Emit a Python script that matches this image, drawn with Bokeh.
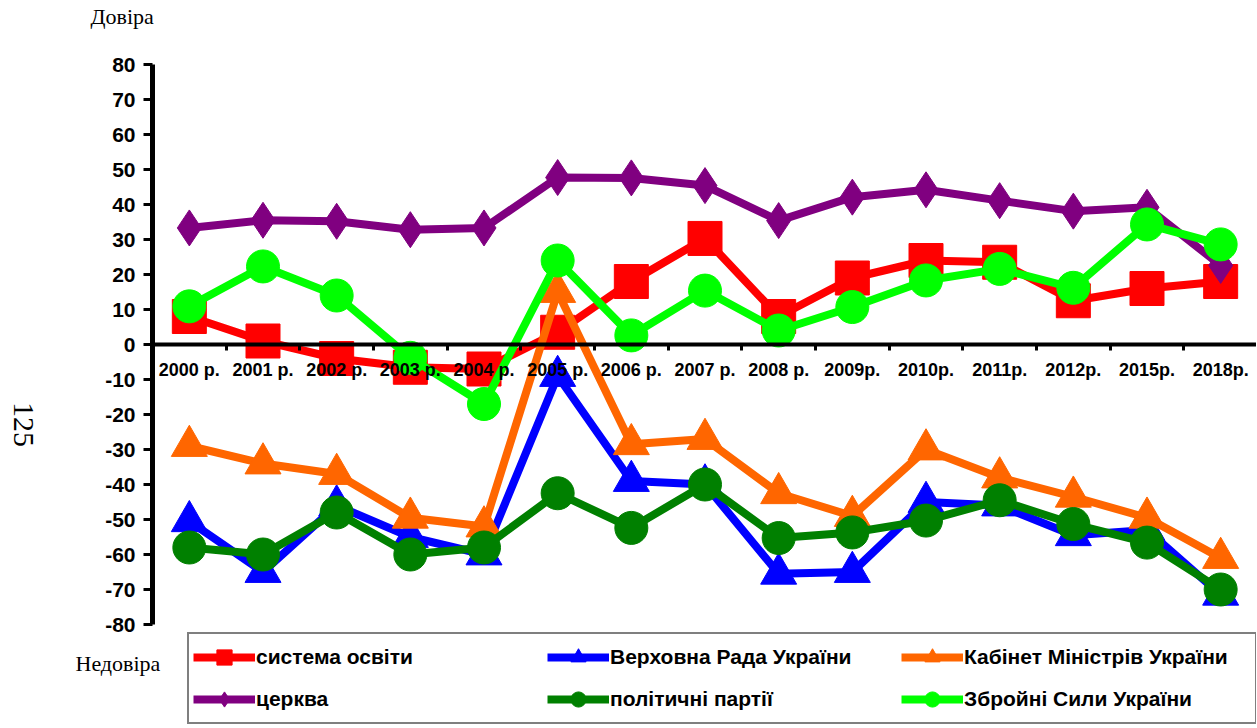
import math
from bokeh.plotting import figure
from bokeh.models import Range1d, FixedTicker, Legend, LegendItem, Label
from bokeh.embed import file_html
from bokeh.resources import INLINE

# ---- data ----
years = ["2000 р.", "2001 р.", "2002 р.", "2003 р.", "2004 р.", "2005 р.", "2006 р.",
         "2007 р.", "2008 р.", "2009р.", "2010р.", "2011р.", "2012р.", "2015р.", "2018р."]

osvita = [8, 1, -4, -6.5, -7, 3.5, 18, 30.3, 8, 19, 24, 23.5, 12.5, 16, 18]
rada = [-50.5, -65, -46, -55, -60, -9, -39, -40, -65.5, -65, -45, -46, -54.5, -53, -71.5]
kabmin = [-29, -34, -37, -49.5, -52, 15, -28.5, -27, -42.5, -49, -30, -38, -43.5, -49.5, -61]
tserkva = [33.3, 35.5, 35.2, 32.8, 33.3, 47.7, 47.6, 45.4, 35.4, 42.1, 44.2, 41.1, 38.1, 39.2, 22.6]
partii = [-58, -60, -48, -60, -58, -42.5, -52.4, -40, -55.3, -53.7, -50.3, -44.5, -51.3, -56.6, -70]
zsu = [10.9, 22.3, 14, -3.8, -17, 24, 2.6, 15.4, 4, 10.7, 18.3, 21.6, 16.2, 34.3, 28.6]

series_names = ["система освіти", "Верховна Рада України", "Кабінет Міністрів України",
                "церква", "політичні партії", "Збройні Сили України"]
y_ticks = list(range(-80, 81, 10))
y_min, y_max = -80, 80

# ---- styles / layout ----
series_values = [osvita, rada, kabmin, tserkva, partii, zsu]
colors = ["#FF0000", "#0000FF", "#FF6600", "#800080", "#008000", "#00FF00"]
markers = ["square", "triangle", "triangle", "diamond", "circle", "circle"]
sizes = [34, 36, 36, 36, 33, 33]

W, H = 1256, 727
AX_LEFT_PX, TOP_PX, BOT_PX = 152, 64, 624   # pixel positions of the axes box
n = len(years)
xs = [i + 0.5 for i in range(n)]

px_per_cat = (W + 1 - AX_LEFT_PX) / n
px_per_unit = (BOT_PX - TOP_PX) / (y_max - y_min)
x_start = -AX_LEFT_PX / px_per_cat
x_end = (W - AX_LEFT_PX) / px_per_cat
y_top = y_max + TOP_PX / px_per_unit
y_bot = y_min - (H - BOT_PX) / px_per_unit

p = figure(width=W, height=H, output_backend="svg", toolbar_location=None,
           x_range=Range1d(x_start, x_end), y_range=Range1d(y_bot, y_top),
           min_border_left=0, min_border_right=0, min_border_top=0, min_border_bottom=0)
p.outline_line_color = None
p.grid.visible = False
p.background_fill_color = "white"
p.border_fill_color = "white"

FONT = "Liberation Sans"

# x axis crossing at zero
xa = p.xaxis[0]
xa.fixed_location = 0
xa.bounds = (0, n)
xa.ticker = FixedTicker(ticks=xs, minor_ticks=list(range(1, n)))
xa.major_label_overrides = {x: lbl for x, lbl in zip(xs, years)}
xa.major_tick_out = 0
xa.major_tick_in = 0
xa.minor_tick_out = 6
xa.minor_tick_in = 0
xa.minor_tick_line_width = 3
xa.minor_tick_line_color = "black"
xa.axis_line_width = 4
xa.axis_line_color = "black"
xa.major_label_standoff = 9
xa.major_label_text_font = FONT
xa.major_label_text_font_style = "bold"
xa.major_label_text_font_size = "18px"
xa.major_label_text_color = "black"

ya = p.yaxis[0]
ya.fixed_location = 0
ya.bounds = (y_min, y_max)
ya.ticker = FixedTicker(ticks=y_ticks)
ya.major_label_overrides = {t: str(t) for t in y_ticks}
ya.major_tick_out = 9
ya.major_tick_in = 0
ya.major_tick_line_width = 3
ya.major_tick_line_color = "black"
ya.minor_tick_line_color = None
ya.axis_line_width = 5
ya.axis_line_color = "black"
ya.major_label_standoff = 8
ya.major_label_text_font = FONT
ya.major_label_text_font_style = "bold"
ya.major_label_text_font_size = "21px"
ya.major_label_text_color = "black"

items = []
for name, vals, c, m, s in zip(series_names, series_values, colors, markers, sizes):
    rl = p.line(xs, vals, line_width=8, line_color=c, line_join="round")
    rs = p.scatter(xs, vals, marker=m, size=s, fill_color=c, line_color=c)
    items.append(LegendItem(label=name, renderers=[rl, rs]))

legend = Legend(items=items, location=(187, 3), orientation="horizontal", ncols=3,
                glyph_width=62, glyph_height=38, label_width=287, label_height=38,
                label_standoff=1, spacing=4, padding=4, margin=0,
                border_line_color="black", border_line_width=2,
                background_fill_color="white", background_fill_alpha=1,
                label_text_font=FONT, label_text_font_style="bold",
                label_text_font_size="21px", label_text_color="black")
p.add_layout(legend)

SERIF = "Liberation Serif"
p.add_layout(Label(x=90, y=H - 16, x_units="screen", y_units="screen", text="Довіра",
                   text_font=SERIF, text_font_size="22px", text_baseline="middle",
                   text_align="left", text_color="black"))
p.add_layout(Label(x=75, y=H - 663, x_units="screen", y_units="screen", text="Недовіра",
                   text_font=SERIF, text_font_size="22px", text_baseline="middle",
                   text_align="left", text_color="black"))
p.add_layout(Label(x=23, y=H - 424, x_units="screen", y_units="screen", text="125",
                   text_font=SERIF, text_font_size="30px", text_baseline="middle",
                   text_align="center", angle=-math.pi / 2, text_color="black"))

open("out.html", "w").write(file_html(p, INLINE))
